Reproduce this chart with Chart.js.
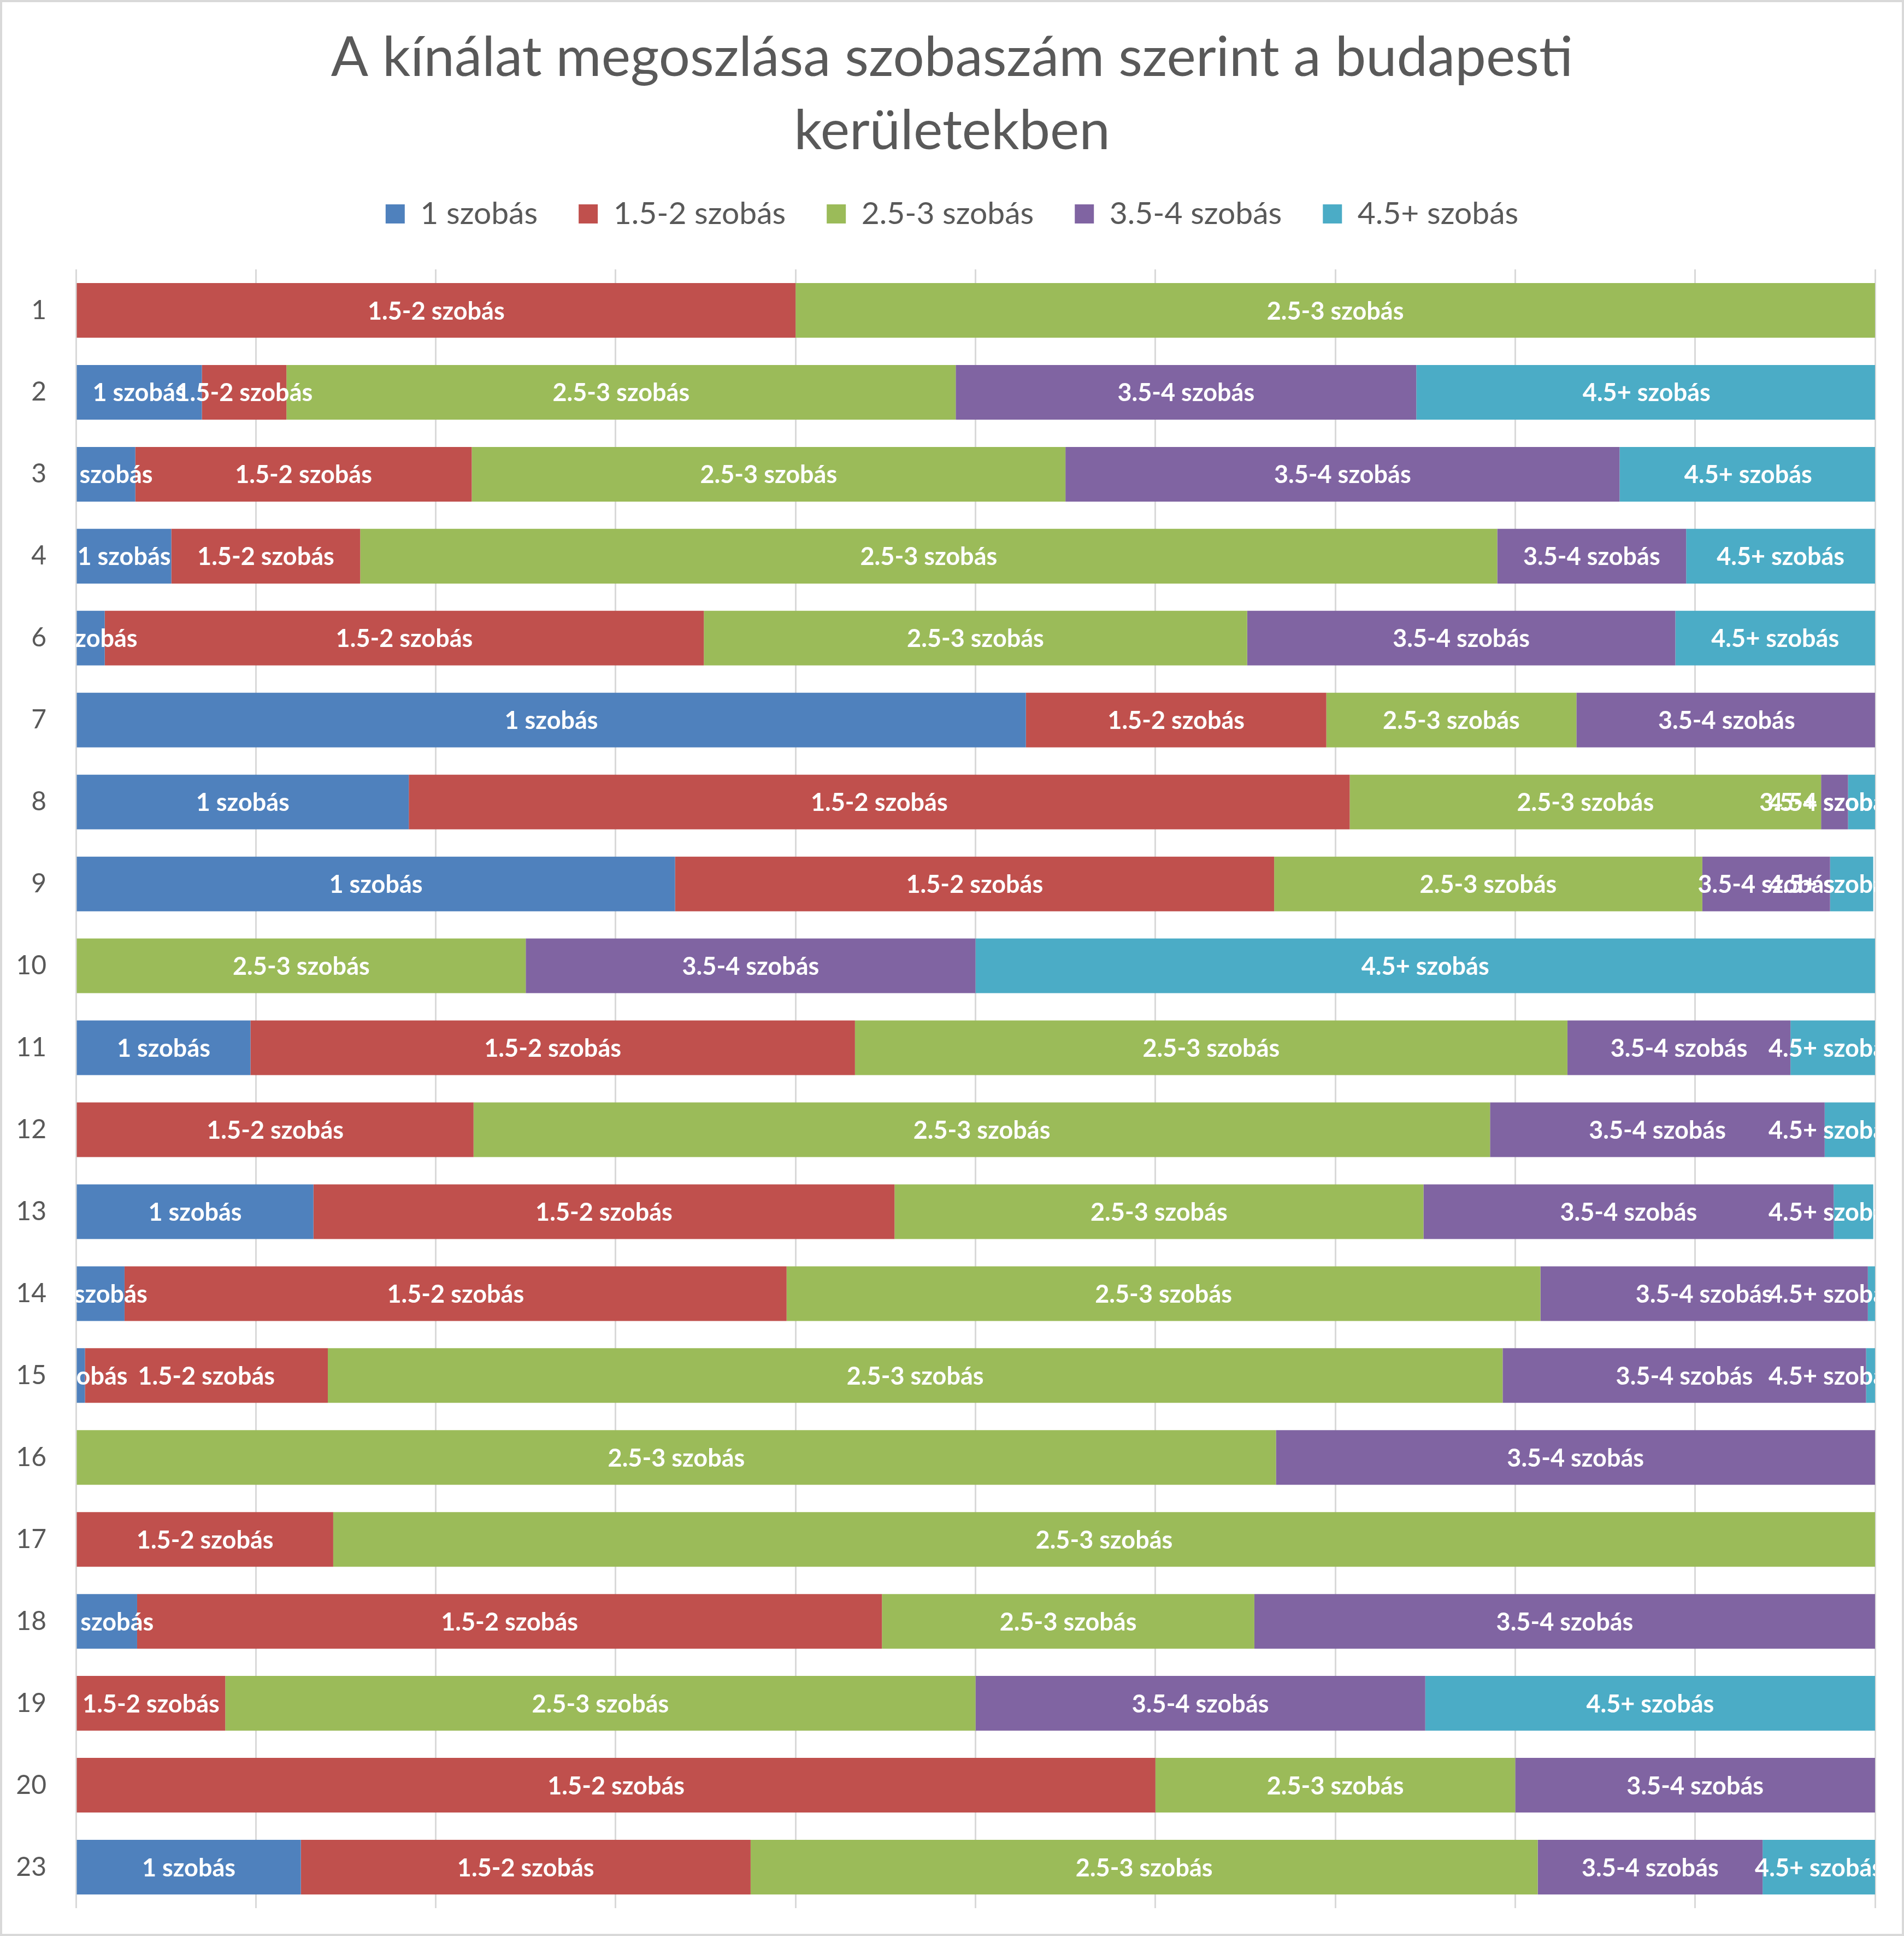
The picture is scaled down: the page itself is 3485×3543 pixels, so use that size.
<!DOCTYPE html>
<html>
<head>
<meta charset="utf-8">
<script src="https://cdn.jsdelivr.net/npm/chart.js@4.4.1/dist/chart.umd.min.js"></script>
<style>
html, body { margin: 0; padding: 0; background: #ffffff; }
canvas { display: block; }
</style>
</head>
<body>
<canvas id="c" width="3485" height="3543"></canvas>
<script>
// Districts (kerületek)
const categories = ['1','2','3','4','6','7','8','9','10','11','12','13','14','15','16','17','18','19','20','23'];
const seriesNames = ['1 szobás','1.5-2 szobás','2.5-3 szobás','3.5-4 szobás','4.5+ szobás'];
// share of offers (%) per district
const s1 = [0, 7.0, 3.3, 5.3, 1.6, 52.8, 18.5, 33.3, 0, 9.7, 0, 13.2, 2.7, 0.5, 0, 0, 3.4, 0, 0, 12.5];
const s2 = [40, 4.7, 18.7, 10.5, 33.3, 16.7, 52.3, 33.3, 0, 33.6, 22.1, 32.3, 36.8, 13.5, 0, 14.3, 41.4, 8.3, 60, 25];
const s3 = [60, 37.2, 33.0, 63.2, 30.2, 13.9, 26.2, 23.8, 25, 39.6, 56.5, 29.4, 41.9, 65.3, 66.7, 85.7, 20.7, 41.7, 20, 43.75];
const s4 = [0, 25.6, 30.8, 10.5, 23.8, 16.7, 1.5, 7.1, 25, 12.4, 18.6, 22.8, 18.2, 20.2, 33.3, 0, 34.5, 25, 20, 12.5];
const s5 = [0, 25.6, 14.3, 10.5, 11.1, 0, 1.5, 2.4, 50, 4.7, 2.8, 2.2, 0.4, 0.5, 0, 0, 0, 25, 0, 6.25];
const titleLines = ['A kínálat megoszlása szobaszám szerint a budapesti', 'kerületekben'];
const colors = ['#4F81BD', '#C0504D', '#9BBB59', '#8064A2', '#4BACC6'];
const seriesValues = [s1, s2, s3, s4, s5];

Chart.defaults.font.family = 'Lato';

const segLabels = {
  id: 'segLabels',
  afterDatasetsDraw(chart) {
    const { ctx, chartArea, width } = chart;
    ctx.save();
    ctx.beginPath();
    ctx.rect(chartArea.left, chartArea.top, chartArea.right - chartArea.left, chartArea.bottom - chartArea.top);
    ctx.clip();
    ctx.font = 'bold 45px Lato';
    ctx.fillStyle = '#ffffff';
    ctx.textAlign = 'center';
    ctx.textBaseline = 'middle';
    const edge = 14;
    chart.data.datasets.forEach((ds, di) => {
      const meta = chart.getDatasetMeta(di);
      const w = ctx.measureText(ds.label).width;
      meta.data.forEach((el, i) => {
        if (!ds.data[i]) return;
        let cx = (el.x + el.base) / 2;
        if (cx + w / 2 > width - edge) cx = width - edge - w / 2;
        if (cx - w / 2 < edge) cx = edge + w / 2;
        ctx.fillText(ds.label, cx, el.y + 2);
      });
    });
    ctx.restore();
  }
};

const frame = {
  id: 'frame',
  beforeDraw(chart) {
    const { ctx, width, height } = chart;
    ctx.save();
    ctx.fillStyle = '#ffffff';
    ctx.fillRect(0, 0, width, height);
    ctx.restore();
  },
  afterDraw(chart) {
    const { ctx, width, height } = chart;
    ctx.save();
    ctx.strokeStyle = '#d9d9d9';
    ctx.lineWidth = 4;
    ctx.strokeRect(2, 2, width - 4, height - 4);
    ctx.restore();
  }
};

function noPad(scale) { scale.paddingTop = 0; scale.paddingBottom = 0; }

new Chart(document.getElementById('c'), {
  type: 'bar',
  data: {
    labels: categories,
    datasets: seriesNames.map((name, k) => ({
      label: name,
      data: seriesValues[k],
      backgroundColor: colors[k],
      borderWidth: 0,
      barPercentage: 0.667,
      categoryPercentage: 1.0
    }))
  },
  options: {
    indexAxis: 'y',
    responsive: false,
    devicePixelRatio: 1,
    animation: false,
    layout: { padding: { top: 0, left: 0, right: 0, bottom: 51 } },
    plugins: {
      title: {
        display: true,
        text: titleLines,
        color: '#595959',
        font: { family: 'Lato', size: 101, weight: 'normal', lineHeight: 1.327 },
        padding: { top: 39, bottom: -19 }
      },
      legend: {
        display: true,
        position: 'top',
        labels: {
          color: '#595959',
          boxWidth: 35,
          boxHeight: 35,
          padding: 75,
          font: { family: 'Lato', size: 57 }
        }
      },
      tooltip: { enabled: false }
    },
    scales: {
      x: {
        position: 'top',
        stacked: true,
        min: 0,
        max: 100,
        ticks: { display: false, stepSize: 10 },
        grid: { color: '#d9d9d9', lineWidth: 3, drawTicks: false },
        border: { display: false },
        afterFit(scale) { scale.height = 63; }
      },
      y: {
        position: 'left',
        stacked: true,
        grid: { display: false, drawTicks: false },
        border: { display: false },
        ticks: { color: '#595959', padding: 54, font: { family: 'Lato', size: 48 } },
        afterFit(scale) { scale.width = 139; noPad(scale); }
      },
      y2: {
        position: 'right',
        type: 'category',
        labels: categories,
        grid: { display: false, drawTicks: false },
        border: { display: false },
        ticks: { display: false },
        afterFit(scale) { scale.width = 53; noPad(scale); }
      }
    }
  },
  plugins: [segLabels, frame]
});
</script>
</body>
</html>
